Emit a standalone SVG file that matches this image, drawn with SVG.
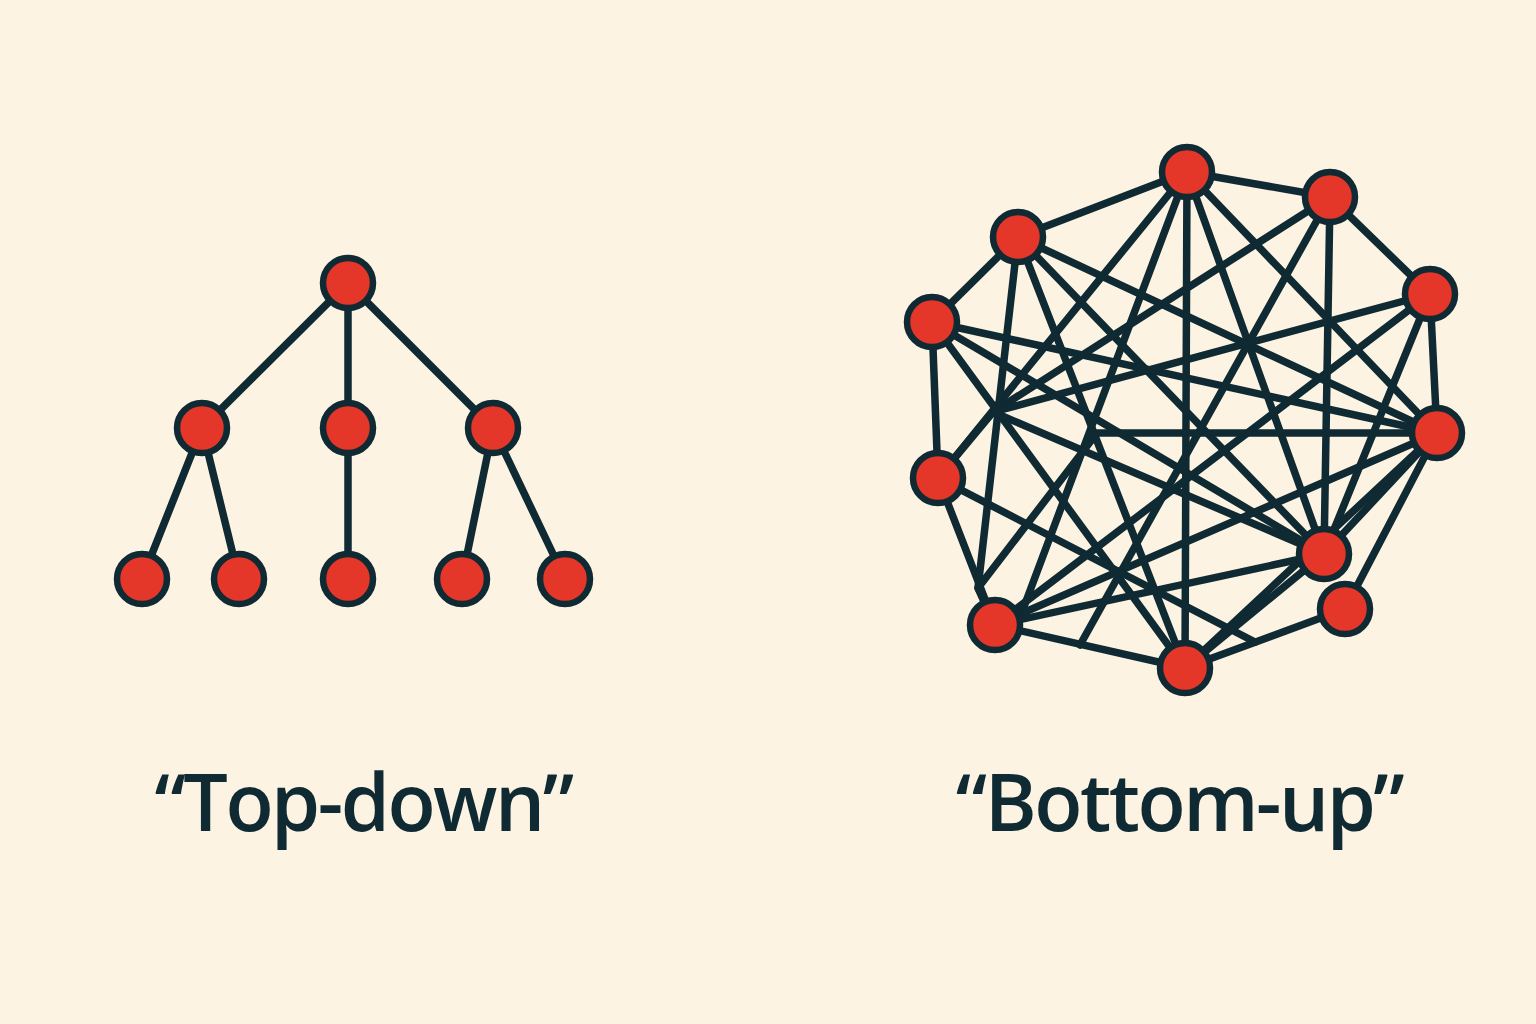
<svg xmlns="http://www.w3.org/2000/svg" width="1536" height="1024" viewBox="0 0 1536 1024">
<style>
.bg{fill:#fdf3e2}
.e{stroke:#0f2a33;stroke-width:7.5;fill:none;stroke-linecap:round;stroke-linejoin:round}
.n{fill:#e5362a;stroke:#0f2a33;stroke-width:6.5}
.t{font-family:"Open Sans","Noto Sans","Liberation Sans",sans-serif;font-weight:600;font-size:79px;letter-spacing:-2.5px;fill:#0f2a33;text-anchor:middle}
</style>
<rect class="bg" x="0" y="0" width="1536" height="1024"/>
<g id="tree-connectors">
<line class="e" x1="348" y1="283" x2="202" y2="428"/>
<line class="e" x1="348" y1="283" x2="348" y2="428"/>
<line class="e" x1="348" y1="283" x2="493" y2="428"/>
<line class="e" x1="202" y1="428" x2="142" y2="579"/>
<line class="e" x1="202" y1="428" x2="239" y2="579"/>
<line class="e" x1="348" y1="428" x2="348" y2="579"/>
<line class="e" x1="493" y1="428" x2="462" y2="579"/>
<line class="e" x1="493" y1="428" x2="565" y2="579"/>
</g>
<g id="tree-root"><circle class="n" cx="348" cy="283" r="25"/></g>
<g id="tree-mid-left"><circle class="n" cx="202" cy="428" r="25"/></g>
<g id="tree-mid-center"><circle class="n" cx="348" cy="428" r="25"/></g>
<g id="tree-mid-right"><circle class="n" cx="493" cy="428" r="25"/></g>
<g id="tree-leaf-1"><circle class="n" cx="142" cy="579" r="25"/></g>
<g id="tree-leaf-2"><circle class="n" cx="239" cy="579" r="25"/></g>
<g id="tree-leaf-3"><circle class="n" cx="348" cy="579" r="25"/></g>
<g id="tree-leaf-4"><circle class="n" cx="462" cy="579" r="25"/></g>
<g id="tree-leaf-5"><circle class="n" cx="565" cy="579" r="25"/></g>

<g id="network-connectors">
<line class="e" x1="1187" y1="172" x2="1018" y2="237"/>
<line class="e" x1="1187" y1="172" x2="1330" y2="197"/>
<line class="e" x1="1018" y1="237" x2="932" y2="322"/>
<line class="e" x1="932" y1="322" x2="938" y2="478"/>
<line class="e" x1="938" y1="478" x2="995" y2="625"/>
<line class="e" x1="995" y1="625" x2="1185" y2="668"/>
<line class="e" x1="1185" y1="668" x2="1345" y2="609"/>
<line class="e" x1="1345" y1="609" x2="1437" y2="433"/>
<line class="e" x1="1437" y1="433" x2="1430" y2="294"/>
<line class="e" x1="1430" y1="294" x2="1330" y2="197"/>
<line class="e" x1="1187" y1="172" x2="1185" y2="668"/>
<line class="e" x1="1330" y1="197" x2="1324" y2="554"/>
<line class="e" x1="1187" y1="172" x2="1324" y2="554"/>
<line class="e" x1="1187" y1="172" x2="1437" y2="433"/>
<line class="e" x1="1187" y1="172" x2="938" y2="478"/>
<line class="e" x1="1187" y1="172" x2="1022" y2="612"/>
<polyline class="e" points="1018,237 978,588 995,625"/>
<line class="e" x1="1018" y1="237" x2="1185" y2="668"/>
<line class="e" x1="1018" y1="237" x2="1324" y2="554"/>
<line class="e" x1="1018" y1="237" x2="1437" y2="433"/>
<line class="e" x1="932" y1="322" x2="1437" y2="433"/>
<line class="e" x1="932" y1="322" x2="1185" y2="668"/>
<line class="e" x1="932" y1="322" x2="1324" y2="554"/>
<polyline class="e" points="1330,197 993,412 938,478"/>
<line class="e" x1="1330" y1="197" x2="1080" y2="645"/>
<line class="e" x1="1430" y1="294" x2="993" y2="412"/>
<line class="e" x1="993" y1="412" x2="1324" y2="554"/>
<line class="e" x1="1430" y1="294" x2="1324" y2="554"/>
<line class="e" x1="1430" y1="294" x2="995" y2="625"/>
<line class="e" x1="1437" y1="433" x2="995" y2="625"/>
<line class="e" x1="1437" y1="433" x2="1324" y2="554"/>
<line class="e" x1="1437" y1="433" x2="1185" y2="668"/>
<line class="e" x1="1324" y1="554" x2="1185" y2="668"/>
<line class="e" x1="995" y1="625" x2="1324" y2="554"/>
<polyline class="e" points="995,625 978,588 1097,433 1437,433"/>
<line class="e" x1="938" y1="478" x2="1255" y2="642"/>
</g>
<g id="net-a"><circle class="n" cx="1187" cy="172" r="25"/></g>
<g id="net-b"><circle class="n" cx="1330" cy="197" r="25"/></g>
<g id="net-c"><circle class="n" cx="1018" cy="237" r="25"/></g>
<g id="net-d"><circle class="n" cx="1430" cy="294" r="25"/></g>
<g id="net-e"><circle class="n" cx="932" cy="322" r="25"/></g>
<g id="net-f"><circle class="n" cx="1437" cy="433" r="25"/></g>
<g id="net-g"><circle class="n" cx="938" cy="478" r="25"/></g>
<g id="net-h"><circle class="n" cx="1324" cy="554" r="25"/></g>
<g id="net-i"><circle class="n" cx="1345" cy="609" r="25"/></g>
<g id="net-j"><circle class="n" cx="995" cy="625" r="25"/></g>
<g id="net-k"><circle class="n" cx="1185" cy="668" r="25"/></g>

<g id="labels">
<text class="t" x="363" y="831">“Top-down”</text>
<text class="t" x="1179" y="831">“Bottom-up”</text>
</g>
</svg>
